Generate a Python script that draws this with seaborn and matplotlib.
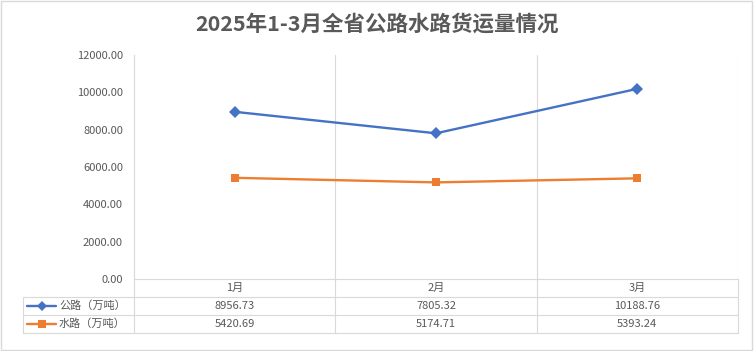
import matplotlib
matplotlib.use("Agg")
import matplotlib.pyplot as plt
import seaborn as sns
import pandas as pd
from matplotlib.lines import Line2D
from matplotlib.patches import Rectangle

months = ["1月", "2月", "3月"]
series_names = ["公路（万吨）", "水路（万吨）"]
road = [8956.73, 7805.32, 10188.76]
water = [5420.69, 5174.71, 5393.24]
yticks = [0, 2000, 4000, 6000, 8000, 10000, 12000]
title = "2025年1-3月全省公路水路货运量情况"

colors = ["#4472C4", "#ED7D31"]
markers = ["D", "s"]

sns.set_style("white")
plt.rcParams["font.family"] = ["Noto Sans CJK SC", "DejaVu Sans"]

W, H = 754, 351
fig = plt.figure(figsize=(W / 100, H / 100), dpi=100)

def fx(px):
    return px / W

def fy(py):
    return 1 - py / H

x0, x1 = 134, 738
ytop, ybot = 55, 279
ax = fig.add_axes([fx(x0), fy(ybot), fx(x1) - fx(x0), (ybot - ytop) / H])

df = pd.DataFrame({
    "month": list(range(len(months))) * 2,
    "value": road + water,
    "series": [series_names[0]] * 3 + [series_names[1]] * 3,
})
sns.lineplot(data=df, x="month", y="value", hue="series", style="series",
             markers=markers, dashes=False, palette=colors, linewidth=1.7,
             markersize=6, markeredgewidth=0, ax=ax, legend=False)

ax.set_xlim(-0.5, len(months) - 0.5)
ax.set_ylim(0, 12000)
ax.set_yticks(yticks)
ax.set_yticklabels([f"{v:.2f}" for v in yticks], color="#595959", fontsize=8)
ax.set_xticks([])
ax.set_xlabel("")
ax.set_ylabel("")
ax.tick_params(axis="y", length=0, pad=8)
for s in ["top", "right"]:
    ax.spines[s].set_visible(False)
ax.spines["left"].set_color("#D9D9D9")
ax.spines["bottom"].set_color("#D9D9D9")
for b in [0.5, 1.5, 2.5]:
    ax.axvline(b, color="#D9D9D9", linewidth=0.8, zorder=0)

# Data table below the plot
gc = "#D9D9D9"
tl = 23
rows = [279, 297, 315, 333]
colb = [x0 + i * (x1 - x0) / 3 for i in range(4)]
for r in rows[1:]:
    fig.add_artist(Line2D([fx(tl), fx(x1)], [fy(r)] * 2, color=gc, lw=0.8))
fig.add_artist(Line2D([fx(tl)] * 2, [fy(rows[1]), fy(rows[3])], color=gc, lw=0.8))
for cb in colb:
    fig.add_artist(Line2D([fx(cb)] * 2, [fy(rows[0]), fy(rows[3])], color=gc, lw=0.8))

for i, m in enumerate(months):
    cx = (colb[i] + colb[i + 1]) / 2
    fig.text(fx(cx), fy((rows[0] + rows[1]) / 2), m, ha="center", va="center",
             fontsize=8, color="#595959")

for r, (name, vals) in enumerate(zip(series_names, [road, water])):
    cy = (rows[r + 1] + rows[r + 2]) / 2
    fig.add_artist(Line2D([fx(27), fx(56)], [fy(cy)] * 2, color=colors[r], lw=1.7))
    fig.add_artist(Line2D([fx(41.5)], [fy(cy)], color=colors[r], lw=0,
                          marker=markers[r], markersize=5 if r == 0 else 6,
                          markeredgewidth=0))
    fig.text(fx(59), fy(cy), name, ha="left", va="center", fontsize=8, color="#595959")
    for i, v in enumerate(vals):
        cx = (colb[i] + colb[i + 1]) / 2
        fig.text(fx(cx), fy(cy), f"{v:.2f}", ha="center", va="center",
                 fontsize=8, color="#595959")

fig.text(0.5, fy(24), title, ha="center", va="center", fontsize=15.5,
         fontweight="bold", color="#595959")

fig.add_artist(Rectangle((0.001, 0.002), 0.997, 0.996, transform=fig.transFigure,
                         fill=False, edgecolor="#D9D9D9", lw=1))

fig.savefig("out.png", dpi=100)
